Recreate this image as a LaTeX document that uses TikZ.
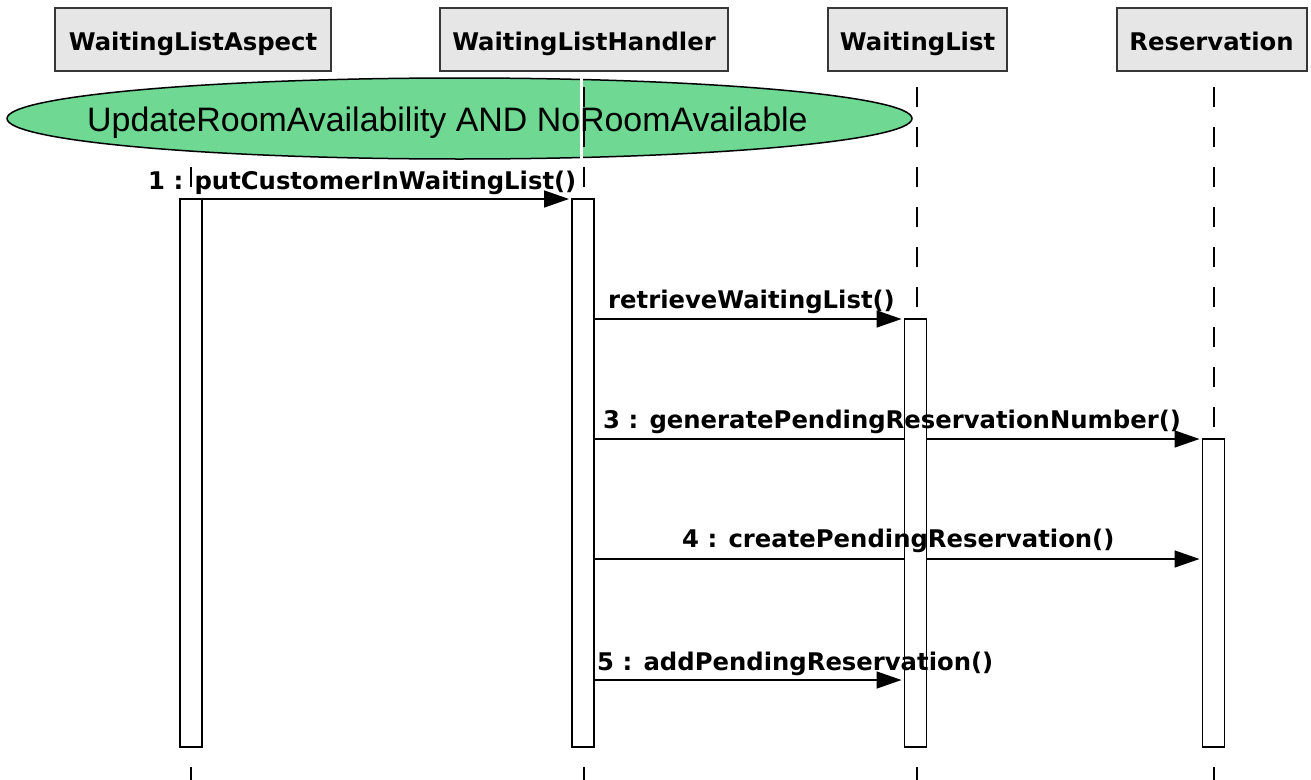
\documentclass[tikz,border=0pt]{standalone}
\usepackage{fontspec}
\newfontfamily\dvs{DejaVu Sans}
\newfontfamily\lib{Liberation Sans}
\usetikzlibrary{shapes.geometric,arrows.meta,backgrounds}
\definecolor{hdrfill}{RGB}{230,230,230}
\definecolor{hdrdraw}{RGB}{55,55,55}
\definecolor{condgreen}{RGB}{111,216,146}
\begin{document}
\begin{tikzpicture}[x=1pt,y=-1pt,
  hdr/.style={draw=hdrdraw,fill=hdrfill,line width=2pt,rectangle,inner sep=0pt,outer sep=0pt,
    minimum height=63pt,text height=22pt,text depth=1pt,font=\dvs\bfseries\fontsize{24.3}{28}\selectfont},
  act/.style={draw=black,fill=white,line width=1.8pt,rectangle,inner sep=0pt,outer sep=0pt,minimum width=22pt},
  lifeline/.style={draw=black,line width=1.5pt,dash pattern=on 20pt off 20pt},
  msg/.style={draw=black,line width=1.6pt,-{Triangle[length=25pt,width=17pt]},shorten >=3pt},
  msglabel/.style={anchor=base west,inner sep=0pt,font=\dvs\bfseries\fontsize{24.3}{28}\selectfont},
  cond/.style={draw=black,fill=condgreen,ellipse,inner sep=0pt,line width=1.5pt},
]
\useasboundingbox (0,0) rectangle (1311,779);

% object headers
\node[hdr,minimum width=276pt] (h1) at (193,39.5) {WaitingListAspect};
\node[hdr,minimum width=288pt] (h2) at (584,39.5) {WaitingListHandler};
\node[hdr,minimum width=179pt] (h3) at (917.5,39.5) {WaitingList};
\node[hdr,minimum width=190pt] (h4) at (1211.5,39.5) {Reservation};

% lifeline positions
\coordinate (lt) at (0,87);
\coordinate (lb) at (0,790);
\coordinate (l1) at (191,0);
\coordinate (l2) at (584,0);
\coordinate (l3) at (917,0);
\coordinate (l4) at (1214,0);

\draw[lifeline] (l1 |- lt) -- (l1 |- lb);
\draw[lifeline] (l3 |- lt) -- (l3 |- lb);
\draw[lifeline] (l4 |- lt) -- (l4 |- lb);

% condition ellipse
\node[cond,minimum width=905pt,minimum height=81pt] (cnd) at (459.5,118.5) {};
\coordinate (wl) at (581.5,0);
\draw[white,line width=3pt] (wl |- cnd.north) -- (wl |- cnd.south);
\draw[lifeline] (l2 |- lt) -- (l2 |- lb);
\node[anchor=base west,inner sep=0pt,font=\lib\fontsize{33.9}{40}\selectfont] (cndtext) at (87,131)
  {UpdateRoomAvailability AND NoRoomAvailable};

% activation bars
\node[act,minimum height=548pt] (a1) at (191,473) {};
\node[act,minimum height=548pt] (a2) at (583,473) {};
\node[act,minimum height=428pt] (a3) at (915.5,533) {};
\node[act,minimum height=308pt] (a4) at (1213.5,593) {};

% messages
\coordinate (m4) at (0,559);
\coordinate (m5) at (0,680);
\begin{pgfonlayer}{background}
\draw[msg] (a1.north east) -- (a2.north west);
\draw[msg] (a2.east |- a3.north) -- (a3.north west);
\draw[msg] (a2.east |- a4.north) -- (a4.north west);
\draw[msg] (a2.east |- m4) -- (a4.west |- m4);
\draw[msg] (a2.east |- m5) -- (a3.west |- m5);
\end{pgfonlayer}

\node[msglabel] (t1) at (148,189) {1 : putCustomerInWaitingList()};
\node[msglabel] (t2) at (608,308) {retrieveWaitingList()};
\node[msglabel] (t3) at (603,428) {3 : generatePendingReservationNumber()};
\node[msglabel] (t4) at (682,547) {4 : createPendingReservation()};
\node[msglabel] (t5) at (597,670) {5 : addPendingReservation()};
\end{tikzpicture}
\end{document}
